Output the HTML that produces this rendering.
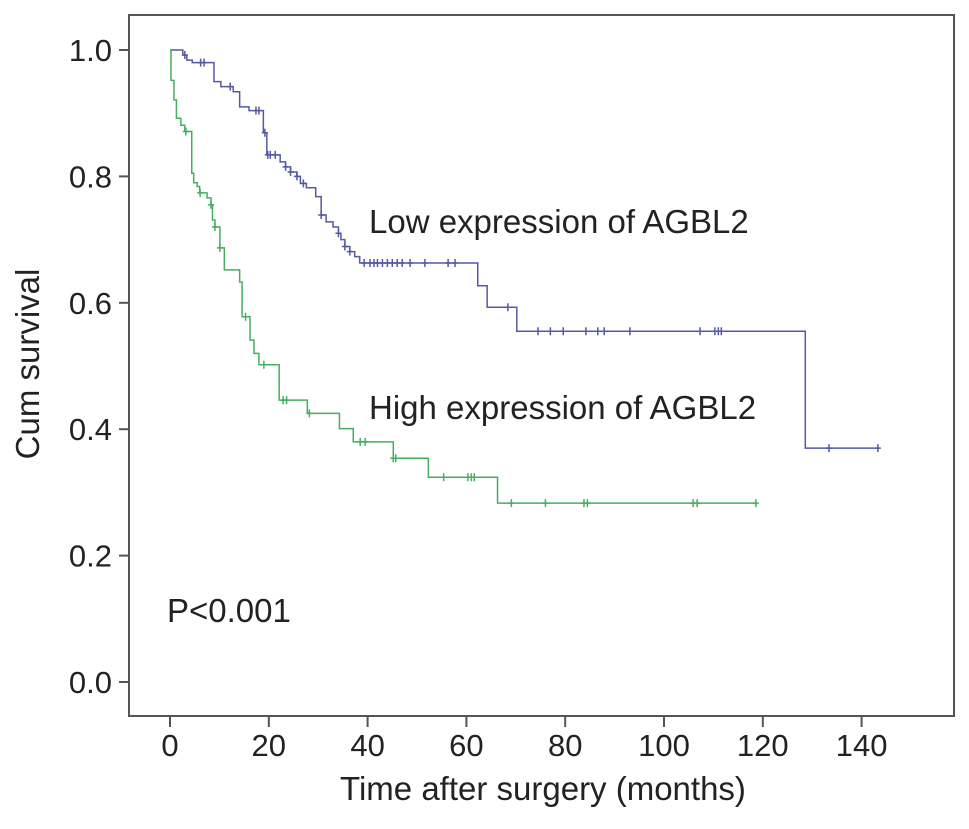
<!DOCTYPE html>
<html><head><meta charset="utf-8"><style>
html,body{margin:0;padding:0;background:#fff;}
svg{display:block;font-family:"Liberation Sans",Arial,sans-serif;}
</style></head><body>
<svg id="chart" width="969" height="829" viewBox="0 0 969 829" xmlns="http://www.w3.org/2000/svg">
  <rect x="129" y="15" width="825" height="701" fill="none" stroke="#555" stroke-width="2"/>
  <g id="yaxis"></g>
  <g id="xaxis"></g>
  <g id="series"></g>
  <text x="39" y="364" font-size="33" fill="#222" text-anchor="middle" transform="rotate(-90 39 364)">Cum survival</text>
  <text x="543" y="800" font-size="33" fill="#222" text-anchor="middle">Time after surgery (months)</text>
  <text x="369" y="233" font-size="33" fill="#222">Low expression of AGBL2</text>
  <text x="369" y="419" font-size="33" fill="#222">High expression of AGBL2</text>
  <text x="167" y="622" font-size="33" fill="#222">P&lt;0.001</text>
</svg>
<script>
const yTicks = [0.0, 0.2, 0.4, 0.6, 0.8, 1.0];
const yTickLabels = ["0.0", "0.2", "0.4", "0.6", "0.8", "1.0"];
const xTicks = [0, 20, 40, 60, 80, 100, 120, 140];
const xTickLabels = ["0", "20", "40", "60", "80", "100", "120", "140"];

const lowTimes = [0, 2.6, 3.4, 4.5, 8.9, 10.3, 12.8, 14.1, 16, 18.9, 19.6, 22.3, 23.4, 24.4, 25.7, 26.4, 27.6, 29.5, 30.6, 31.6, 33, 34.1, 34.6, 35.4, 36.4, 37.4, 38.4, 62.3, 64.2, 70.2, 128.6];
const lowSurv  = [1.0, 0.992, 0.984, 0.98, 0.95, 0.942, 0.934, 0.91, 0.904, 0.869, 0.834, 0.823, 0.815, 0.807, 0.80, 0.789, 0.782, 0.768, 0.739, 0.728, 0.72, 0.71, 0.70, 0.689, 0.681, 0.673, 0.663, 0.627, 0.593, 0.555, 0.37];
const lowCensor = [3, 6.2, 6.9, 12.2, 17.4, 18, 19.2, 19.8, 20.3, 21.3, 23.4, 24.4, 25.7, 27, 30.6, 34.1, 35.4, 36.4, 39.3, 40.5, 41.3, 42, 43, 44, 45, 46, 47, 48.6, 51.6, 56.3, 57.7, 68.4, 74.5, 77, 79.6, 84.2, 86.6, 87.9, 93.1, 107.3, 110.3, 111, 111.6, 133.4, 143.3];
const lowEnd = 143.3;

const highTimes = [0, 0.2, 0.8, 1.3, 2.2, 3, 4.4, 4.8, 5.5, 6, 7.5, 8.3, 8.6, 9.1, 10.1, 11, 14.1, 14.6, 16.2, 17, 18, 22.1, 27.8, 34.3, 37.1, 45.2, 52.3, 66.3];
const highSurv  = [1.0, 0.952, 0.921, 0.892, 0.881, 0.871, 0.805, 0.79, 0.784, 0.774, 0.766, 0.755, 0.731, 0.72, 0.687, 0.652, 0.633, 0.578, 0.541, 0.52, 0.502, 0.446, 0.425, 0.401, 0.38, 0.354, 0.324, 0.283];
const highCensor = [3.2, 6.1, 8.3, 9.1, 10.1, 15.3, 19, 22.9, 23.6, 28.2, 38.5, 39.5, 45.2, 45.7, 55.4, 60.3, 61, 61.6, 69.1, 76, 83.8, 84.5, 105.9, 106.7, 118.6];
const highEnd = 118.6;

const NS = "http://www.w3.org/2000/svg";
const X0 = 170, XS = 4.94, Y0 = 682, YS = 632;
function xScale(t){ return X0 + t * XS; }
function yScale(s){ return Y0 - s * YS; }
function mk(tag, attrs){ const e = document.createElementNS(NS, tag); for (const k in attrs) e.setAttribute(k, attrs[k]); return e; }

const yAxis = document.getElementById('yaxis');
yTicks.forEach((v, i) => {
  const y = yScale(v);
  const tk = mk('line', {x1:119, x2:129, y1:y, y2:y, stroke:'#555', 'stroke-width':2});
  
  
  yAxis.appendChild(tk);
  const lb = mk('text', {x:112, y:y+11, 'font-size':31, fill:'#222', 'text-anchor':'end'});
  lb.textContent = yTickLabels[i];
  
  
  yAxis.appendChild(lb);
});
const xAxis = document.getElementById('xaxis');
xTicks.forEach((v, i) => {
  const x = xScale(v);
  const tk = mk('line', {x1:x, x2:x, y1:716, y2:727, stroke:'#555', 'stroke-width':2});
  
  
  xAxis.appendChild(tk);
  const lb = mk('text', {x:x, y:756, 'font-size':31, fill:'#222', 'text-anchor':'middle'});
  lb.textContent = xTickLabels[i];
  
  
  xAxis.appendChild(lb);
});

function survAt(times, surv, t){ let s = surv[0]; for (let i=0;i<times.length;i++){ if (times[i] <= t) s = surv[i]; } return s; }

function drawSeries(times, surv, censor, end, color, name){
  const g = document.getElementById('series');
  let d = 'M' + xScale(times[0]) + ' ' + yScale(surv[0]);
  for (let i=1;i<times.length;i++){
    d += ' H' + xScale(times[i]) + ' V' + yScale(surv[i]);
  }
  d += ' H' + xScale(end);
  const p = mk('path', {d:d, fill:'none', stroke:color, 'stroke-width':1.5});
  
  
  g.appendChild(p);
  censor.forEach(t => {
    const x = xScale(t), y = yScale(survAt(times, surv, t));
    const c = mk('path', {d:'M'+x+' '+(y-4)+' V'+(y+4)+' M'+(x-3)+' '+y+' H'+(x+3), stroke:color, 'stroke-width':1.5});
    
    
    g.appendChild(c);
  });
}
drawSeries(lowTimes, lowSurv, lowCensor, lowEnd, '#5558a6', 'low-expression');
drawSeries(highTimes, highSurv, highCensor, highEnd, '#47ad62', 'high-expression');
</script>
</body></html>
